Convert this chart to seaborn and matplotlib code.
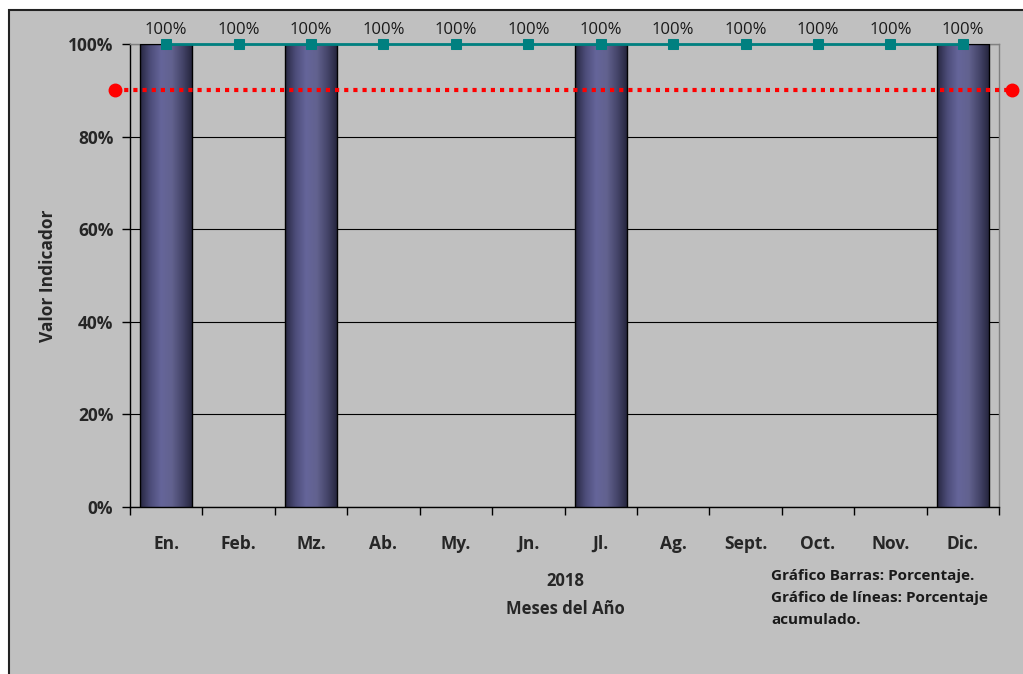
import matplotlib
matplotlib.use("Agg")
import matplotlib.pyplot as plt
from matplotlib.colors import LinearSegmentedColormap
from matplotlib.patches import Rectangle
from matplotlib.ticker import FixedLocator, PercentFormatter
import numpy as np
import pandas as pd
import seaborn as sns

MONTHS = ["En.", "Feb.", "Mz.", "Ab.", "My.", "Jn.", "Jl.", "Ag.",
          "Sept.", "Oct.", "Nov.", "Dic."]
PORCENTAJE = [100, 0, 100, 0, 0, 0, 100, 0, 0, 0, 0, 100]
ACUMULADO = [100, 100, 100, 100, 100, 100, 100, 100, 100, 100, 100, 100]
META = 90

BG = "#c0c0c0"
TEAL = "#008080"

sns.set_theme(style="white")
plt.rcParams["font.family"] = ["Open Sans", "DejaVu Sans"]

df = pd.DataFrame({"mes": MONTHS, "pct": PORCENTAJE, "acum": ACUMULADO})
df["pos"] = np.arange(len(df))

fig = plt.figure(figsize=(10.23, 6.74), dpi=100, facecolor="white")
# chart area frame (gray with dark left/top border)
fig.patches.append(Rectangle((9 / 1023, -0.01), 1.02, 1 - 10 / 674 + 0.01,
                             transform=fig.transFigure, facecolor=BG,
                             edgecolor="#222222", linewidth=1.5, zorder=-5))

ax = fig.add_axes([130 / 1023, 1 - 507 / 674, 869 / 1023, 463 / 674])
ax.set_facecolor(BG)

sns.barplot(data=df, x="mes", y="pct", color="#5f5f94", width=0.72,
            linewidth=0, saturation=1, ax=ax, zorder=3)

# cylinder-like shading on the bars
cmap = LinearSegmentedColormap.from_list(
    "cyl", ["#272741", "#4d4d7a", "#65659a", "#62628f", "#45456a", "#23233a"])
grad = np.linspace(0, 1, 256).reshape(1, -1)
for bar in list(ax.patches):
    h = bar.get_height()
    if h <= 0:
        continue
    x0 = bar.get_x()
    w = bar.get_width()
    im = ax.imshow(grad, cmap=cmap, aspect="auto", extent=(x0, x0 + w, 0, h),
                   zorder=3.5)
    im.set_clip_path(bar)
    ax.add_patch(Rectangle((x0, 0), w, h, fill=False, edgecolor="black",
                           linewidth=1.0, zorder=4))

sns.lineplot(data=df, x="pos", y="acum", color=TEAL, linewidth=2,
             marker="s", markersize=7, markeredgecolor=TEAL, ax=ax, zorder=6,
             clip_on=False)
for x, v in zip(df["pos"], df["acum"]):
    ax.annotate(f"{v:.0f}%", (x, v), xytext=(0, 4), textcoords="offset points",
                ha="center", va="bottom", fontsize=12, color="#1a1a1a",
                annotation_clip=False)

ax.set_xlim(-0.5, len(MONTHS) - 0.5)
ax.set_ylim(0, 100)

# goal line, extending past the plot edges
x_lo, x_hi = ax.get_xlim()
ax.plot([x_lo - 0.21, x_hi + 0.18], [META, META], color="#ff0000", lw=3,
        linestyle=(0, (1, 1.2)), marker="o", markersize=9, clip_on=False,
        zorder=7)

ax.yaxis.set_major_locator(FixedLocator([0, 20, 40, 60, 80, 100]))
ax.yaxis.set_major_formatter(PercentFormatter(100, decimals=0))
ax.grid(axis="y", color="black", linewidth=0.8, zorder=1)
ax.set_axisbelow(True)

ax.tick_params(axis="y", direction="out", length=6, width=1, color="black",
               labelsize=12.5, pad=6, left=True)
for lbl in ax.get_yticklabels():
    lbl.set_fontweight("bold")
ax.set_xticks(df["pos"])
ax.set_xticklabels(MONTHS, fontsize=12.5, fontweight="bold")
ax.tick_params(axis="x", length=0, pad=20)
ax.set_xticks(np.arange(len(MONTHS) + 1) - 0.5, minor=True)
ax.tick_params(axis="x", which="minor", direction="out", length=6, width=1,
               color="black", bottom=True)

for side in ["left", "bottom"]:
    ax.spines[side].set_color("black")
    ax.spines[side].set_linewidth(1)
for side in ["top", "right"]:
    ax.spines[side].set_color("#808080")
    ax.spines[side].set_linewidth(1)

ax.set_xlabel("")
ax.set_ylabel("Valor Indicador", fontsize=12.5, fontweight="bold", labelpad=8)

fig.text(565 / 1023, 1 - 595 / 674, "2018\nMeses del Año", ha="center",
         va="center", fontsize=12, fontweight="bold", linespacing=1.75)
fig.text(771 / 1023, 1 - 569 / 674,
         "Gráfico Barras: Porcentaje.\nGráfico de líneas: Porcentaje\nacumulado.",
         ha="left", va="top", fontsize=11, fontweight="bold",
         color="#1a1a1a", linespacing=1.75)

fig.savefig("out.png", dpi=100, facecolor="white")
